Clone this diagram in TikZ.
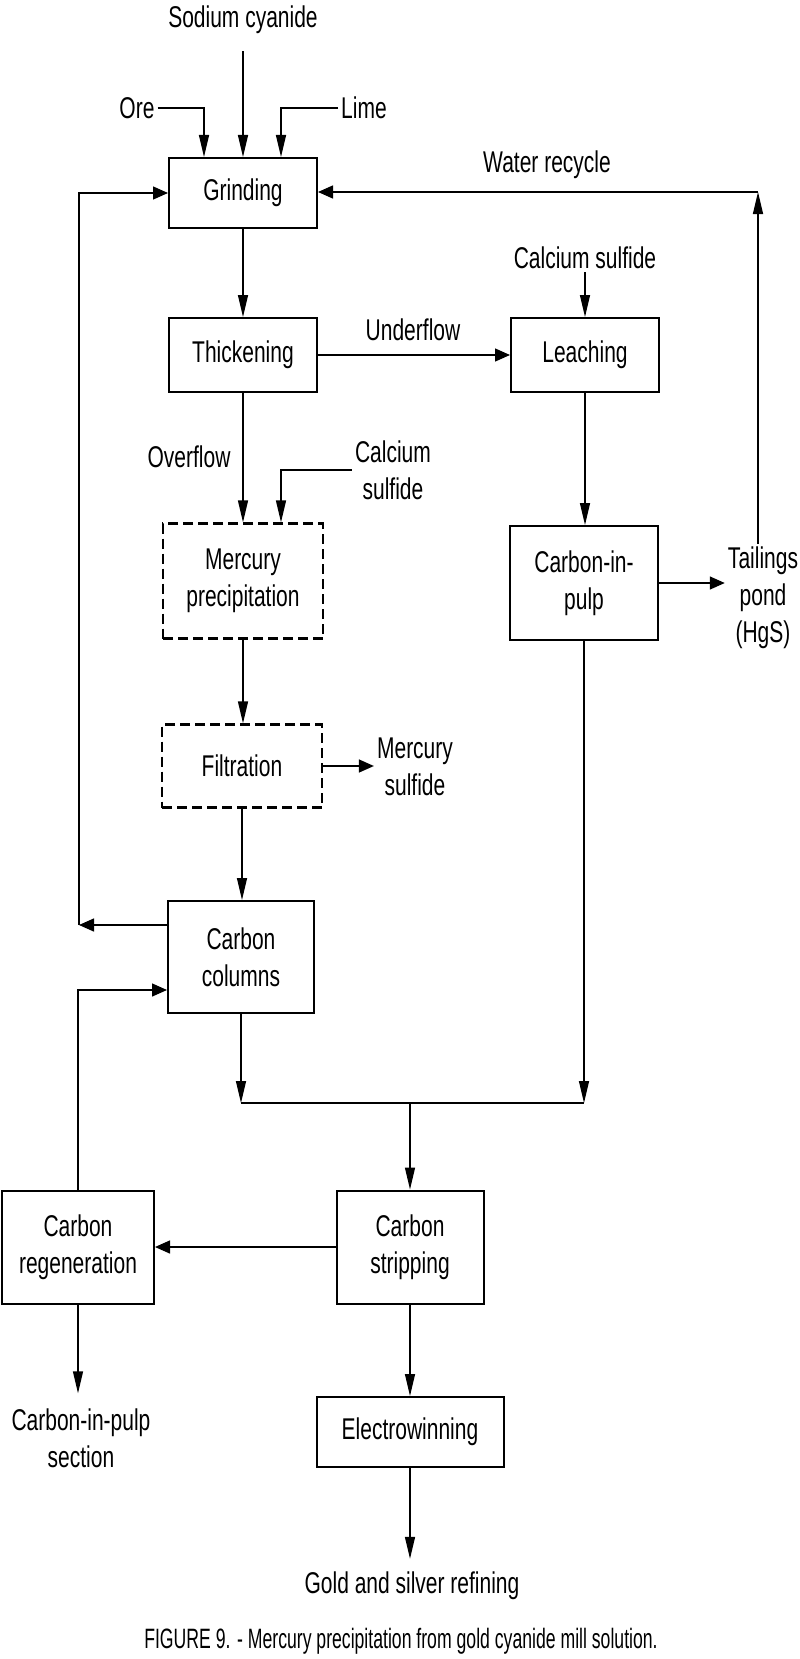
\documentclass[tikz,border=0pt]{standalone}
\usepackage{fontspec}
\setmainfont{Liberation Sans}[FakeStretch=0.70]
\newfontfamily\capfont{Liberation Sans}[FakeStretch=0.63]
\usetikzlibrary{arrows.meta}

\begin{document}
\begin{tikzpicture}[x=1pt, y=-1pt,
        font=\fontsize{30}{37}\selectfont,
        box/.style={draw, line width=2pt, minimum width=148pt, align=center, inner sep=0pt},
        dashbox/.style={box, line width=2.3pt, dash pattern=on 10pt off 5pt, minimum width=160pt},
        lbl/.style={align=center, inner sep=3pt},
        flowv/.style={line width=1.4pt, -{Triangle[length=22pt, width=10pt]}},
        flowh/.style={line width=1.4pt, -{Triangle[length=15pt, width=13pt]}}]
        \useasboundingbox (0,0) rectangle (800,1659);
        %%% units
        \node[box, minimum height=70pt] (grind) at (243,193) {Grinding};
        \node[box, minimum height=74pt] (thick) at (243,355) {Thickening};
        \node[box, minimum height=74pt] (leach) at (585,355) {Leaching};
        \node[dashbox, minimum height=115pt] (hgppt) at (243,581) {Mercury\\precipitation};
        \node[box, minimum height=114pt] (cip) at (584,583) {Carbon-in-\\pulp};
        \node[dashbox, minimum height=83pt] (filt) at (242,766) {Filtration};
        \node[box, minimum width=146pt, minimum height=112pt] (cols) at (241,957) {Carbon\\columns};
        \node[box, minimum width=152pt, minimum height=113pt] (regen) at (78,1247) {Carbon\\regeneration};
        \node[box, minimum width=147pt, minimum height=113pt] (strip) at (410,1247) {Carbon\\stripping};
        \node[box, minimum width=187pt, minimum height=70pt] (elec) at (410,1432) {Electrowinning};
        %%% streams
        \node[lbl] (nacn) at (243,20) {Sodium cyanide};
        \node[lbl] (ore) at (137,108) {Ore};
        \node[lbl] (lime) at (364,108) {Lime};
        \node[lbl] (water) at (547,165) {Water recycle};
        \node[lbl] (cas1) at (585,258) {Calcium sulfide};
        \node[lbl] (under) at (413,330) {Underflow};
        \node[lbl] (over) at (189,457) {Overflow};
        \node[lbl] (cas2) at (393,470) {Calcium\\sulfide};
        \node[lbl] (tail) at (763,598) {Tailings\\pond\\(HgS)};
        \node[lbl] (hgs) at (415,767) {Mercury\\sulfide};
        \node[lbl] (cipsec) at (81,1438) {Carbon-in-pulp\\section};
        \node[lbl] (refin) at (412,1586) {Gold and silver refining};
        \node[lbl, font=\capfont\fontsize{28}{30}\selectfont] (capt) at (401,1641) {FIGURE 9. - Mercury precipitation from gold cyanide mill solution.};
        %%% connectors
        \coordinate (wr) at (758,192);
        \coordinate (lb) at (79,925);
        \coordinate (jm) at (410,1103);
        \draw[flowv] ([yshift=-14pt]nacn.south) -- (grind.north);
        \draw[flowv] (ore.east) -| ([xshift=-39pt]grind.north);
        \draw[flowv] (lime.west) -| ([xshift=38pt]grind.north);
        \draw[flowv] (tail.north -| wr) -- (wr);
        \draw[flowh] (wr) -- (wr -| grind.east);
        \draw[flowh] (lb -| cols.west) -- (lb);
        \draw[flowh] (lb) |- (grind.west);
        \draw[flowv] (grind) -- (thick);
        \draw[flowh] (thick) -- (leach);
        \draw[flowv] (cas1) -- (leach);
        \draw[flowv] (thick) -- (hgppt);
        \draw[flowv] (cas2.west) -| ([xshift=38pt]hgppt.north);
        \draw[flowv] (leach.south) -- (leach.south |- cip.north);
        \draw[flowh] (cip.east) -- (cip.east -| tail.west);
        \draw[flowv] (hgppt) -- (hgppt |- filt.north);
        \draw[flowh] (filt.east) -- (filt.east -| hgs.west);
        \draw[flowv] (filt.south) -- (filt.south |- cols.north);
        \draw[flowv] (cols.south) -- (cols.south |- jm);
        \draw[flowv] (cip.south) -- (cip.south |- jm);
        \draw[line width=1.4pt] (cols.south |- jm) -- (cip.south |- jm);
        \draw[flowv] (jm) -- (strip);
        \draw[flowh] (strip) -- (regen);
        \draw[flowh] (regen.north) |- ([yshift=-33pt]cols.west);
        \draw[flowv] (regen.south) -- ([yshift=12pt]cipsec.north -| regen.south);
        \draw[flowv] (strip) -- (elec);
        \draw[flowv] (elec.south) -- ([yshift=10pt]refin.north -| elec.south);
\end{tikzpicture}
\end{document}
